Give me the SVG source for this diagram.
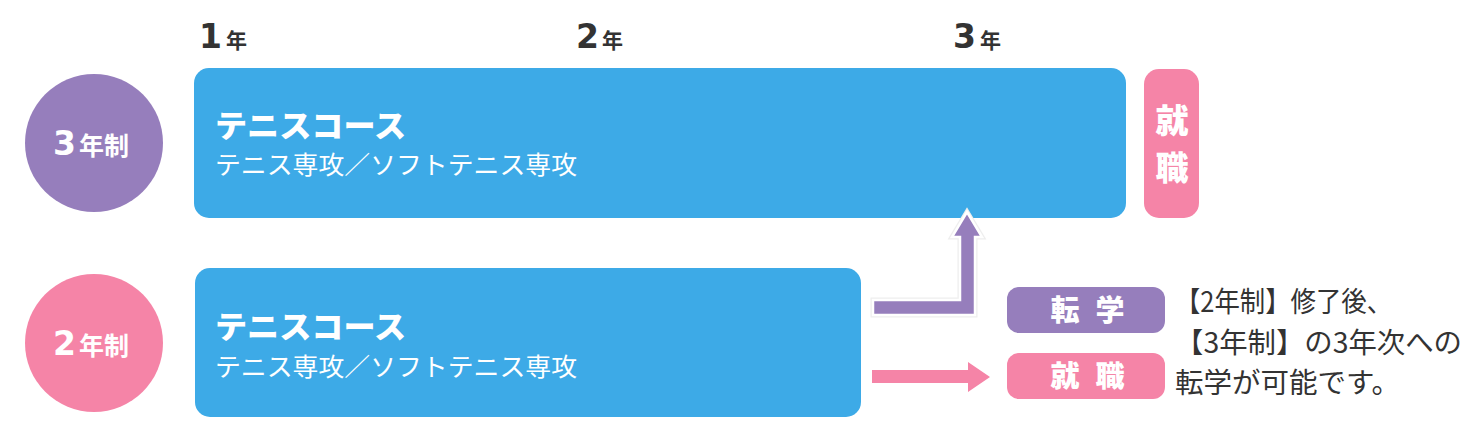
<svg xmlns="http://www.w3.org/2000/svg" width="1480" height="443" viewBox="0 0 1480 443">
  <style>
    .jp { font-family: "Noto Sans CJK JP", "Noto Sans", sans-serif; }
    .num { font-family: "DejaVu Sans", "Liberation Sans", sans-serif; font-weight: bold; }
    .b { font-weight: bold; }
    .k { font-weight: 900; }
    .w { fill: #ffffff; }
    .dark { fill: #333333; }
    .blue { fill: #3DAAE7; }
    .purple { fill: #967EBC; }
    .pink { fill: #F584A7; }
  </style>
  <rect width="1480" height="443" fill="#ffffff"/>

  <g id="year-labels">
    <text x="199" y="48" class="dark"><tspan class="num" font-size="33">1</tspan><tspan class="jp b" font-size="21" dx="4">年</tspan></text>
    <text x="576" y="48" class="dark"><tspan class="num" font-size="33">2</tspan><tspan class="jp b" font-size="21" dx="3">年</tspan></text>
    <text x="953" y="48" class="dark"><tspan class="num" font-size="33">3</tspan><tspan class="jp b" font-size="21" dx="4">年</tspan></text>
  </g>

  <g id="badge-3year">
    <circle cx="94" cy="143" r="69" class="purple"/>
    <text x="53" y="155" class="w"><tspan class="num" font-size="33">3</tspan><tspan class="jp b" font-size="25" dx="3">年制</tspan></text>
  </g>

  <g id="course-3year">
    <rect x="194" y="68" width="932" height="150" rx="15" class="blue"/>
    <text x="215" y="137" class="jp k w" font-size="31" textLength="191" lengthAdjust="spacingAndGlyphs">テニスコース</text>
    <text x="215" y="174" class="jp w" font-size="25" textLength="362" lengthAdjust="spacingAndGlyphs">テニス専攻／ソフトテニス専攻</text>
  </g>

  <g id="job-3year">
    <rect x="1144" y="69" width="55" height="149" rx="15" class="pink"/>
    <text x="1172" y="133" text-anchor="middle" class="jp k w" font-size="33">就</text>
    <text x="1172" y="180" text-anchor="middle" class="jp k w" font-size="33">職</text>
  </g>

  <g id="badge-2year">
    <circle cx="94" cy="343" r="69" class="pink"/>
    <text x="53" y="355" class="w"><tspan class="num" font-size="33">2</tspan><tspan class="jp b" font-size="25" dx="3">年制</tspan></text>
  </g>

  <g id="course-2year">
    <rect x="195" y="268" width="666" height="149" rx="15" class="blue"/>
    <text x="215" y="338" class="jp k w" font-size="31" textLength="191" lengthAdjust="spacingAndGlyphs">テニスコース</text>
    <text x="215" y="376" class="jp w" font-size="25" textLength="362" lengthAdjust="spacingAndGlyphs">テニス専攻／ソフトテニス専攻</text>
  </g>

  <g id="connectors">
    <polygon points="873,300 960,300 960,237 952,237 967,212 982,237 975,237 975,315 873,315" fill="none" stroke="#eeeeee" stroke-width="5" stroke-linejoin="miter"/>
    <polygon points="873,300 960,300 960,237 952,237 967,212 982,237 975,237 975,315 873,315" class="purple" stroke="#ffffff" stroke-width="2.5" stroke-linejoin="miter"/>
    <polygon points="872,370 968,370 968,362 990,377 968,392 968,383 872,383" class="pink"/>
  </g>

  <g id="transfer-box">
    <rect x="1007" y="287" width="158" height="46" rx="12" class="purple"/>
    <text x="1065" y="321" text-anchor="middle" class="jp k w" font-size="29">転</text>
    <text x="1110" y="321" text-anchor="middle" class="jp k w" font-size="29">学</text>
  </g>

  <g id="job-box">
    <rect x="1007" y="353" width="158" height="46" rx="12" class="pink"/>
    <text x="1065" y="387" text-anchor="middle" class="jp k w" font-size="29">就</text>
    <text x="1110" y="387" text-anchor="middle" class="jp k w" font-size="29">職</text>
  </g>

  <g id="note">
    <text x="1175" y="312" class="jp dark" font-size="28" textLength="217" lengthAdjust="spacingAndGlyphs">【2年制】修了後、</text>
    <text x="1175" y="353" class="jp dark" font-size="28" textLength="287" lengthAdjust="spacingAndGlyphs">【3年制】の3年次への</text>
    <text x="1175" y="393" class="jp dark" font-size="28" textLength="225" lengthAdjust="spacingAndGlyphs">転学が可能です。</text>
  </g>
</svg>
